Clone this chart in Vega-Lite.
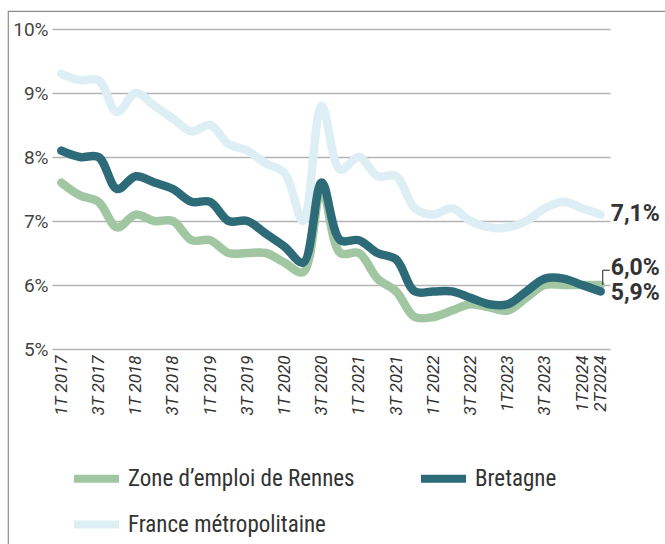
{
  "$schema": "https://vega.github.io/schema/vega-lite/v6.json",
  "width": 660,
  "height": 540,
  "autosize": "none",
  "padding": {"left": 8, "top": 11, "right": 0, "bottom": 0},
  "background": "white",
  "config": {
    "view": {"stroke": "#8c8c8c", "strokeWidth": 1.2},
    "font": "Roboto"
  },
  "data": {
    "values": [
      {"q": "1T 2017", "s": "Zone d’emploi de Rennes", "v": 7.6},
      {"q": "2T 2017", "s": "Zone d’emploi de Rennes", "v": 7.4},
      {"q": "3T 2017", "s": "Zone d’emploi de Rennes", "v": 7.3},
      {"q": "4T 2017", "s": "Zone d’emploi de Rennes", "v": 6.9},
      {"q": "1T 2018", "s": "Zone d’emploi de Rennes", "v": 7.1},
      {"q": "2T 2018", "s": "Zone d’emploi de Rennes", "v": 7.0},
      {"q": "3T 2018", "s": "Zone d’emploi de Rennes", "v": 7.0},
      {"q": "4T 2018", "s": "Zone d’emploi de Rennes", "v": 6.7},
      {"q": "1T 2019", "s": "Zone d’emploi de Rennes", "v": 6.7},
      {"q": "2T 2019", "s": "Zone d’emploi de Rennes", "v": 6.5},
      {"q": "3T 2019", "s": "Zone d’emploi de Rennes", "v": 6.5},
      {"q": "4T 2019", "s": "Zone d’emploi de Rennes", "v": 6.5},
      {"q": "1T 2020", "s": "Zone d’emploi de Rennes", "v": 6.35},
      {"q": "2T 2020", "s": "Zone d’emploi de Rennes", "v": 6.2},
      {"q": "3T 2020", "s": "Zone d’emploi de Rennes", "v": 7.5},
      {"q": "4T 2020", "s": "Zone d’emploi de Rennes", "v": 6.5},
      {"q": "1T 2021", "s": "Zone d’emploi de Rennes", "v": 6.5},
      {"q": "2T 2021", "s": "Zone d’emploi de Rennes", "v": 6.1},
      {"q": "3T 2021", "s": "Zone d’emploi de Rennes", "v": 5.9},
      {"q": "4T 2021", "s": "Zone d’emploi de Rennes", "v": 5.5},
      {"q": "1T 2022", "s": "Zone d’emploi de Rennes", "v": 5.5},
      {"q": "2T 2022", "s": "Zone d’emploi de Rennes", "v": 5.6},
      {"q": "3T 2022", "s": "Zone d’emploi de Rennes", "v": 5.7},
      {"q": "4T 2022", "s": "Zone d’emploi de Rennes", "v": 5.65},
      {"q": "1T2023", "s": "Zone d’emploi de Rennes", "v": 5.6},
      {"q": "2T 2023", "s": "Zone d’emploi de Rennes", "v": 5.8},
      {"q": "3T 2023", "s": "Zone d’emploi de Rennes", "v": 6.0},
      {"q": "4T 2023", "s": "Zone d’emploi de Rennes", "v": 6.0},
      {"q": "1T2024", "s": "Zone d’emploi de Rennes", "v": 6.0},
      {"q": "2T2024", "s": "Zone d’emploi de Rennes", "v": 6.0},
      {"q": "1T 2017", "s": "Bretagne", "v": 8.1},
      {"q": "2T 2017", "s": "Bretagne", "v": 8.0},
      {"q": "3T 2017", "s": "Bretagne", "v": 8.0},
      {"q": "4T 2017", "s": "Bretagne", "v": 7.5},
      {"q": "1T 2018", "s": "Bretagne", "v": 7.7},
      {"q": "2T 2018", "s": "Bretagne", "v": 7.6},
      {"q": "3T 2018", "s": "Bretagne", "v": 7.5},
      {"q": "4T 2018", "s": "Bretagne", "v": 7.3},
      {"q": "1T 2019", "s": "Bretagne", "v": 7.3},
      {"q": "2T 2019", "s": "Bretagne", "v": 7.0},
      {"q": "3T 2019", "s": "Bretagne", "v": 7.0},
      {"q": "4T 2019", "s": "Bretagne", "v": 6.8},
      {"q": "1T 2020", "s": "Bretagne", "v": 6.6},
      {"q": "2T 2020", "s": "Bretagne", "v": 6.35},
      {"q": "3T 2020", "s": "Bretagne", "v": 7.6},
      {"q": "4T 2020", "s": "Bretagne", "v": 6.7},
      {"q": "1T 2021", "s": "Bretagne", "v": 6.7},
      {"q": "2T 2021", "s": "Bretagne", "v": 6.5},
      {"q": "3T 2021", "s": "Bretagne", "v": 6.4},
      {"q": "4T 2021", "s": "Bretagne", "v": 5.9},
      {"q": "1T 2022", "s": "Bretagne", "v": 5.9},
      {"q": "2T 2022", "s": "Bretagne", "v": 5.9},
      {"q": "3T 2022", "s": "Bretagne", "v": 5.8},
      {"q": "4T 2022", "s": "Bretagne", "v": 5.7},
      {"q": "1T2023", "s": "Bretagne", "v": 5.7},
      {"q": "2T 2023", "s": "Bretagne", "v": 5.9},
      {"q": "3T 2023", "s": "Bretagne", "v": 6.1},
      {"q": "4T 2023", "s": "Bretagne", "v": 6.1},
      {"q": "1T2024", "s": "Bretagne", "v": 6.0},
      {"q": "2T2024", "s": "Bretagne", "v": 5.9},
      {"q": "1T 2017", "s": "France métropolitaine", "v": 9.3},
      {"q": "2T 2017", "s": "France métropolitaine", "v": 9.2},
      {"q": "3T 2017", "s": "France métropolitaine", "v": 9.2},
      {"q": "4T 2017", "s": "France métropolitaine", "v": 8.7},
      {"q": "1T 2018", "s": "France métropolitaine", "v": 9.0},
      {"q": "2T 2018", "s": "France métropolitaine", "v": 8.8},
      {"q": "3T 2018", "s": "France métropolitaine", "v": 8.6},
      {"q": "4T 2018", "s": "France métropolitaine", "v": 8.4},
      {"q": "1T 2019", "s": "France métropolitaine", "v": 8.5},
      {"q": "2T 2019", "s": "France métropolitaine", "v": 8.2},
      {"q": "3T 2019", "s": "France métropolitaine", "v": 8.1},
      {"q": "4T 2019", "s": "France métropolitaine", "v": 7.9},
      {"q": "1T 2020", "s": "France métropolitaine", "v": 7.75},
      {"q": "2T 2020", "s": "France métropolitaine", "v": 7.0},
      {"q": "3T 2020", "s": "France métropolitaine", "v": 8.8},
      {"q": "4T 2020", "s": "France métropolitaine", "v": 7.8},
      {"q": "1T 2021", "s": "France métropolitaine", "v": 8.0},
      {"q": "2T 2021", "s": "France métropolitaine", "v": 7.7},
      {"q": "3T 2021", "s": "France métropolitaine", "v": 7.7},
      {"q": "4T 2021", "s": "France métropolitaine", "v": 7.2},
      {"q": "1T 2022", "s": "France métropolitaine", "v": 7.1},
      {"q": "2T 2022", "s": "France métropolitaine", "v": 7.2},
      {"q": "3T 2022", "s": "France métropolitaine", "v": 7.0},
      {"q": "4T 2022", "s": "France métropolitaine", "v": 6.9},
      {"q": "1T2023", "s": "France métropolitaine", "v": 6.9},
      {"q": "2T 2023", "s": "France métropolitaine", "v": 7.0},
      {"q": "3T 2023", "s": "France métropolitaine", "v": 7.2},
      {"q": "4T 2023", "s": "France métropolitaine", "v": 7.3},
      {"q": "1T2024", "s": "France métropolitaine", "v": 7.2},
      {"q": "2T2024", "s": "France métropolitaine", "v": 7.1}
    ]
  },
  "encoding": {
    "x": {
      "field": "q",
      "type": "ordinal",
      "sort": null,
      "scale": {
        "type": "point",
        "domain": ["1T 2017","2T 2017","3T 2017","4T 2017","1T 2018","2T 2018","3T 2018","4T 2018","1T 2019","2T 2019","3T 2019","4T 2019","1T 2020","2T 2020","3T 2020","4T 2020","1T 2021","2T 2021","3T 2021","4T 2021","1T 2022","2T 2022","3T 2022","4T 2022","1T2023","2T 2023","3T 2023","4T 2023","1T2024","2T2024"],
        "range": [44, 602],
        "padding": 0.5
      },
      "axis": {
        "title": null,
        "values": ["1T 2017","3T 2017","1T 2018","3T 2018","1T 2019","3T 2019","1T 2020","3T 2020","1T 2021","3T 2021","1T 2022","3T 2022","1T2023","3T 2023","1T2024","2T2024"],
        "offset": -202,
        "domain": false,
        "ticks": false,
        "grid": false,
        "labelAngle": -90,
        "labelAlign": "right",
        "labelBaseline": "middle",
        "labelPadding": 6,
        "labelFont": "Roboto",
        "labelFontSize": 17,
        "labelColor": "#333333",
        "labelFontStyle": "italic",
        "labelOverlap": false
      }
    },
    "y": {
      "field": "v",
      "type": "quantitative",
      "scale": {"domain": [5, 10], "range": [338, 18], "zero": false, "nice": false},
      "axis": {
        "title": null,
        "values": [5, 6, 7, 8, 9, 10],
        "labelExpr": "datum.value + '%'",
        "offset": -44,
        "domain": false,
        "ticks": false,
        "grid": true,
        "gridColor": "#b4b4b4",
        "gridWidth": 1.5,
        "labelPadding": 4,
        "labelFont": "Roboto",
        "labelFontSize": 19,
        "labelColor": "#444444"
      }
    },
    "color": {
      "field": "s",
      "type": "nominal",
      "scale": {
        "domain": ["Zone d’emploi de Rennes", "Bretagne", "France métropolitaine"],
        "range": ["#a0c6a2", "#2e6b78", "#ddeff4"]
      },
      "legend": {
        "title": null,
        "orient": "none",
        "direction": "horizontal",
        "legendX": 62,
        "legendY": 441,
        "columns": 2,
        "columnPadding": 50,
        "rowPadding": 3,
        "symbolType": "stroke",
        "symbolSize": 2025,
        "symbolStrokeWidth": 8,
        "labelFont": "Roboto Condensed, Liberation Sans Narrow, Roboto",
        "labelFontSize": 23,
        "labelColor": "#333333",
        "labelOffset": 5,
        "labelLimit": 400
      }
    }
  },
  "layer": [
    {
      "transform": [{"filter": "datum.s === 'France métropolitaine'"}],
      "mark": {"type": "line", "strokeWidth": 8.5, "strokeCap": "round", "strokeJoin": "round", "interpolate": "catmull-rom"}
    },
    {
      "transform": [{"filter": "datum.s === 'Zone d’emploi de Rennes'"}],
      "mark": {"type": "line", "strokeWidth": 8.5, "strokeCap": "round", "strokeJoin": "round", "interpolate": "catmull-rom"}
    },
    {
      "transform": [{"filter": "datum.s === 'Bretagne'"}],
      "mark": {"type": "line", "strokeWidth": 8.5, "strokeCap": "round", "strokeJoin": "round", "interpolate": "catmull-rom"}
    },
    {
      "transform": [{"filter": "datum.s === 'Zone d’emploi de Rennes' && datum.q === '2T2024'"}],
      "mark": {"type": "rule", "color": "#444444", "strokeWidth": 1.2, "xOffset": 2},
      "encoding": {"y2": {"datum": 6.23}, "color": {"value": "#444444"}}
    },
    {
      "transform": [{"filter": "datum.s === 'Zone d’emploi de Rennes' && datum.q === '2T2024'"}],
      "mark": {"type": "rule", "color": "#444444", "strokeWidth": 1.2, "xOffset": 2, "x2Offset": 9},
      "encoding": {"x2": {"datum": "2T2024"}, "y": {"datum": 6.23}, "color": {"value": "#444444"}}
    },
    {
      "transform": [{"filter": "datum.s === 'France métropolitaine' && datum.q === '2T2024'"}],
      "mark": {"type": "text", "align": "left", "baseline": "middle", "dx": 10, "dy": -1, "font": "Roboto", "fontSize": 23, "fontWeight": "bold", "color": "#333333"},
      "encoding": {"text": {"value": "7,1%"}, "color": {"value": "#333333"}}
    },
    {
      "transform": [{"filter": "datum.s === 'Zone d’emploi de Rennes' && datum.q === '2T2024'"}],
      "mark": {"type": "text", "align": "left", "baseline": "middle", "dx": 10, "dy": -17, "font": "Roboto", "fontSize": 23, "fontWeight": "bold", "color": "#333333"},
      "encoding": {"text": {"value": "6,0%"}, "color": {"value": "#333333"}}
    },
    {
      "transform": [{"filter": "datum.s === 'Bretagne' && datum.q === '2T2024'"}],
      "mark": {"type": "text", "align": "left", "baseline": "middle", "dx": 10, "dy": 2, "font": "Roboto", "fontSize": 23, "fontWeight": "bold", "color": "#333333"},
      "encoding": {"text": {"value": "5,9%"}, "color": {"value": "#333333"}}
    }
  ]
}
